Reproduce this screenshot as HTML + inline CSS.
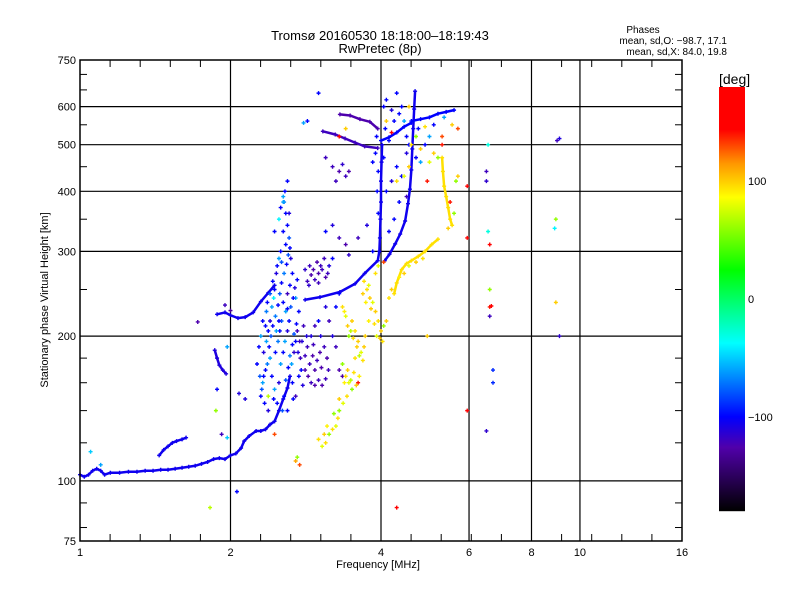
<!DOCTYPE html>
<html><head><meta charset="utf-8"><style>
body{margin:0;background:#fff}
svg{display:block;font-family:"Liberation Sans",sans-serif}
</style></head><body>
<svg id="chart" width="800" height="600" viewBox="0 0 800 600">
<rect width="800" height="600" fill="#fff"/>
<text x="380" y="40" font-size="13" text-anchor="middle">Tromsø 20160530 18:18:00–18:19:43</text>
<text x="380" y="53" font-size="13" text-anchor="middle">RwPretec (8p)</text>
<text x="643" y="33" font-size="10" text-anchor="middle">Phases</text>
<text x="727" y="44" font-size="10" text-anchor="end">mean, sd,O: −98.7, 17.1</text>
<text x="727" y="55" font-size="10" text-anchor="end">mean, sd,X:  84.0, 19.8</text>
<g id="grid"></g>
<g id="marks"></g>
<g id="axes"></g>
<text x="378" y="568" font-size="11" text-anchor="middle">Frequency [MHz]</text>
<text transform="translate(48,300) rotate(-90)" font-size="11" text-anchor="middle">Stationary phase Virtual Height [km]</text>
<g id="cbar"></g>
<text x="719" y="84" font-size="14">[deg]</text>
</svg>
<script>
const xTicks=[1,2,4,6,8,10,16];
const yTicks=[75,100,200,300,400,500,600,750];
const xGrid=[2,4,6,8,10];
const yGrid=[100,200,300,400,500,600];
const cbarTicks=[100,0,-100];
// traces: [freq MHz, height km]
const lowTrace=[[1.0,103],[1.02,102],[1.04,103],[1.06,105],[1.08,106],[1.1,105],[1.12,103],[1.15,104],[1.2,104],[1.25,104.5],[1.3,104.5],[1.35,105],[1.4,105],[1.45,105.5],[1.5,105.5],[1.55,106],[1.6,106.5],[1.65,107],[1.7,107.5],[1.75,108.5],[1.8,109.5],[1.85,111],[1.9,111.5],[1.95,111],[2.0,113],[2.05,114],[2.1,117],[2.13,121],[2.18,124],[2.25,127],[2.3,127],[2.35,128],[2.4,131],[2.45,133],[2.5,140],[2.55,148],[2.6,156],[2.63,165]];
const arcTrace1=[[1.44,113],[1.47,116],[1.5,118],[1.53,120],[1.56,121],[1.6,122],[1.63,123]];
const arcTrace2=[[1.86,187],[1.88,180],[1.9,174],[1.93,170],[1.96,167]];
const midTrace=[[1.88,222],[1.95,224],[2.0,221],[2.07,218],[2.14,219],[2.22,224],[2.3,236],[2.38,246],[2.45,255]];
const oTrace=[[2.82,238],[3.02,241],[3.31,247],[3.55,257],[3.71,270],[3.94,287],[3.97,300],[3.98,320],[3.99,350],[4.0,380],[4.0,420],[4.01,460],[4.02,500]];
const o2Trace=[[4.07,287],[4.16,296],[4.27,311],[4.37,326],[4.47,347],[4.53,377],[4.57,404],[4.6,443],[4.62,490],[4.64,540],[4.66,593],[4.68,646]];
const topArc1=[[3.31,578],[3.47,575],[3.63,565],[3.8,558],[3.94,540]];
const topArc2=[[3.06,533],[3.24,525],[3.39,515],[3.55,505],[3.71,496],[3.94,492]];
const rightArc1=[[4.0,510],[4.15,518],[4.3,530],[4.45,545],[4.6,555]];
const rightArc2=[[4.6,560],[4.8,565],[5.0,570],[5.2,580],[5.4,585],[5.6,590]];
const xTrace1=[[4.25,245],[4.3,258],[4.4,275],[4.5,283],[4.6,287],[4.75,293],[4.9,300],[5.05,310],[5.2,318]];
const xTrace2=[[5.3,470],[5.32,440],[5.35,410],[5.4,390],[5.45,370],[5.5,350],[5.55,340]];
const tracePhases=[-105,-105,-110,-105,-105,-105,-125,-120,-100,-100,95,95];
// scattered echoes: [freq, height, phase]
const cloudPoints=[[2.3,150,-100],[2.32,160,-60],[2.35,170,-100],[2.33,185,-110],[2.36,195,-60],[2.38,205,-100],[2.4,215,-110],[2.42,230,-60],[2.45,250,-100],[2.47,270,-110],[2.5,290,-60],[2.52,300,-100],[2.48,280,-100],[2.44,240,-40],[2.4,180,-60],[2.42,165,-100],[2.45,155,-60],[2.48,145,-100],[2.5,160,-110],[2.52,175,-60],[2.55,185,-100],[2.57,195,-60],[2.6,205,-110],[2.62,215,-100],[2.58,225,-60],[2.55,235,-100],[2.6,245,-120],[2.63,255,-100],[2.65,175,-60],[2.68,185,-115],[2.7,195,-100],[2.72,205,-120],[2.66,160,-100],[2.7,150,-120],[2.74,165,-100],[2.76,180,-120],[2.78,195,-110],[2.8,210,-120],[2.74,225,-100],[2.7,240,-60],[2.66,270,-100],[2.64,290,-110],[2.58,310,-100],[2.55,330,-100],[2.5,350,-40],[2.52,370,-100],[2.55,390,-60],[2.35,210,-100],[2.3,200,-60],[2.28,190,-100],[2.26,175,-100],[2.34,145,-100],[2.38,140,-110],[2.6,140,-100],[2.82,170,-125],[2.86,165,-125],[2.9,160,-120],[2.95,158,-125],[3.0,162,-120],[3.05,158,-125],[3.1,163,-120],[2.88,175,-120],[2.92,182,-125],[2.98,178,-120],[3.02,185,-125],[3.08,190,-120],[3.12,180,-125],[2.85,190,-120],[2.9,200,-110],[2.95,210,-120],[3.0,215,-100],[2.85,260,-120],[2.9,268,-125],[2.95,262,-120],[3.0,270,-125],[3.05,275,-120],[3.1,265,-125],[2.88,280,-120],[2.98,285,-125],[3.08,290,-120],[2.82,275,-115],[3.15,280,-110],[3.2,290,-100],[3.1,230,-110],[3.15,215,-120],[3.2,200,-110],[3.25,190,-120],[3.3,170,-125],[3.35,165,-125],[3.25,230,-100],[3.3,245,-100]];
const cloudPoints2=[[2.31,155,-80],[2.33,165,-100],[2.37,175,-70],[2.39,190,-100],[2.41,200,-80],[2.43,210,-100],[2.46,220,-70],[2.49,232,-100],[2.51,245,-80],[2.53,258,-100],[2.56,270,-70],[2.59,282,-100],[2.61,295,-80],[2.63,305,-100],[2.46,185,-100],[2.49,195,-70],[2.51,205,-100],[2.53,215,-80],[2.56,150,-100],[2.58,162,-80],[2.61,172,-100],[2.63,182,-70],[2.66,192,-100],[2.68,202,-80],[2.71,212,-100],[2.73,185,-110],[2.77,170,-100],[2.79,158,-110],[2.67,148,-100],[2.64,230,-80],[2.67,240,-100],[2.69,252,-110],[2.72,262,-100],[2.62,320,-80],[2.6,340,-100],[2.58,360,-100],[2.56,380,-70],[2.57,400,-100],[2.53,285,-80],[2.43,260,-100],[2.4,245,-80],[2.37,235,-100],[2.36,225,-70],[2.32,215,-100],[2.29,165,-80],[2.44,148,-100],[2.54,140,-80],[2.47,205,-60],[2.5,215,-100],[2.6,228,-100],[2.75,195,-120],[2.82,182,-120],[2.84,200,-110],[2.93,192,-120],[3.03,200,-110],[2.95,170,-125],[3.04,172,-125],[3.14,170,-120],[2.93,275,-125],[3.03,280,-120],[3.13,270,-120],[2.87,255,-115],[3.0,258,-120]];
const upperOPoints=[[2.6,420,-100],[2.55,380,-60],[2.45,330,-100],[2.62,360,-110],[3.0,640,-100],[3.1,470,-120],[3.2,450,-120],[3.3,440,-125],[3.4,430,-120],[3.45,440,-125],[3.35,455,-115],[3.25,420,-120],[2.8,555,-60],[2.85,560,-100],[3.1,330,-100],[3.2,340,-110],[3.3,320,-120],[3.4,310,-125],[3.45,295,-115],[3.6,320,-120],[3.75,340,-110],[3.85,300,-100],[4.1,400,-100],[4.2,420,-110],[4.3,450,-100],[4.4,430,-100],[4.5,480,-110],[4.7,470,-100],[4.8,460,-60],[4.9,500,-100],[5.0,520,-60],[4.35,380,-100],[4.25,350,-100],[4.5,390,-120],[4.15,330,-100],[4.05,600,-100],[4.1,620,-100],[4.2,590,-110],[4.3,640,-100],[4.4,600,-100],[4.45,560,-60],[3.9,480,-100],[3.85,460,-100],[3.92,520,-100],[3.95,440,-100],[3.93,400,-100],[3.95,360,-100],[4.05,470,-100],[4.08,540,-100],[4.15,510,-100],[4.25,560,-100],[4.35,580,-100],[4.5,520,-100],[4.55,500,-100],[4.75,540,-100],[5.1,550,-100],[5.35,570,-60]];
const xModePoints=[[3.35,230,95],[3.4,220,80],[3.5,215,100],[3.55,205,95],[3.45,200,60],[3.6,195,100],[3.65,185,80],[3.55,180,95],[3.7,190,100],[3.75,250,95],[3.8,240,100],[3.85,235,80],[3.9,225,100],[3.95,215,95],[4.0,205,100],[4.05,210,60],[4.1,215,100],[3.35,175,60],[3.4,165,95],[3.45,160,80],[3.5,155,60],[3.42,150,95],[3.3,140,60],[3.25,130,80],[3.2,128,95],[3.15,125,60],[3.1,120,95],[3.05,118,80],[3.3,148,100],[3.6,160,140],[2.7,110,110],[2.75,108,130],[2.72,112,60],[3.95,280,80],[3.9,270,95],[4.05,285,130],[4.15,240,95],[4.3,420,95],[4.45,430,80],[4.55,450,100],[4.6,500,95],[4.7,520,60],[4.8,490,100],[4.9,545,95],[5.0,460,80],[5.1,480,100],[5.2,470,60],[5.3,500,140],[5.3,520,130],[5.55,550,100],[5.7,540,130],[5.65,420,60],[5.7,430,100],[5.5,380,140],[5.6,360,60],[5.45,335,100],[4.95,420,140],[4.2,530,170],[4.1,560,100],[3.4,540,100],[3.3,520,170],[4.55,600,100]];
const xModePoints2=[[3.38,225,90],[3.43,210,100],[3.48,205,70],[3.52,198,95],[3.58,190,100],[3.62,182,70],[3.68,178,95],[3.72,200,100],[3.78,215,90],[3.82,228,100],[3.88,212,95],[3.92,200,80],[3.98,198,100],[4.03,195,95],[3.38,160,90],[3.43,170,100],[3.48,162,70],[3.53,168,95],[3.57,158,100],[3.62,165,90],[3.36,145,80],[3.28,135,95],[3.22,138,60],[3.12,130,90],[3.08,125,100],[3.0,122,95],[3.7,260,95],[3.78,255,80],[3.68,245,100],[3.73,235,90],[4.2,250,100],[4.35,265,90],[4.45,270,100],[4.55,280,80],[4.7,285,100],[4.85,290,95]];
const sparsePoints=[[5.95,410,170],[5.95,320,160],[5.95,140,150],[6.5,440,-120],[6.5,420,-115],[6.55,500,-30],[6.55,330,-30],[6.6,310,170],[6.6,250,60],[6.6,230,140],[6.65,231,150],[6.6,220,-120],[6.7,170,-90],[6.7,160,-90],[6.5,127,-115],[9.0,510,-120],[9.1,515,-110],[8.95,350,60],[8.9,335,-40],[8.95,235,100],[9.1,200,-115],[4.95,200,100],[4.3,88,150],[1.05,115,-50],[1.1,108,-60],[1.82,88,70],[1.97,123,-50],[1.92,125,-120],[2.06,95,-100],[2.14,148,-110],[2.08,152,-110],[1.72,214,-125],[1.97,190,-60],[1.87,140,60],[1.88,155,-100],[2.38,150,70],[2.45,125,130],[1.95,232,-120],[2.0,226,-130]];

const NS='http://www.w3.org/2000/svg';
const L=80,R=682,T=60,B=541;
const xs=f=>L+(R-L)*Math.log2(f)/4;
const ys=h=>B-(B-T)*Math.log10(h/75);
function el(t,a,p){const e=document.createElementNS(NS,t);for(const k in a)e.setAttribute(k,a[k]);p.appendChild(e);return e;}
const stops=[[0,[0,0,0]],[0.15,[80,0,170]],[0.222,[0,0,255]],[0.396,[0,255,255]],[0.568,[0,255,0]],[0.74,[255,255,0]],[0.82,[255,150,0]],[0.9,[255,0,0]],[1,[255,0,0]]];
function col(p){let t=(p+180)/360;t=Math.max(0,Math.min(1,t));for(let i=1;i<stops.length;i++){if(t<=stops[i][0]){const a=stops[i-1],b=stops[i],u=(t-a[0])/(b[0]-a[0]||1);const c=a[1].map((v,j)=>Math.round(v+(b[1][j]-v)*u));return `rgb(${c})`;}}return 'rgb(255,0,0)';}
const grid=document.getElementById('grid'),axes=document.getElementById('axes'),marks=document.getElementById('marks'),cb=document.getElementById('cbar');
xGrid.forEach(v=>{const g=el('line',{x1:xs(v),x2:xs(v),y1:T,y2:B,stroke:'#000','stroke-width':1.2},grid);

});
yGrid.forEach(v=>{const g=el('line',{x1:L,x2:R,y1:ys(v),y2:ys(v),stroke:'#000','stroke-width':1.2},grid);

});
for(let k=1;k<20;k++){const x=L+(R-L)*k/20;
el('line',{x1:x,x2:x,y1:T,y2:T+7,stroke:'#000'},axes);el('line',{x1:x,x2:x,y1:B,y2:B-7,stroke:'#000'},axes);}
[80,90,120,140,160,180,250,350,450,550,650,700].forEach(v=>{const y=ys(v);el('line',{x1:L,x2:L+7,y1:y,y2:y,stroke:'#000'},axes);el('line',{x1:R,x2:R-7,y1:y,y2:y,stroke:'#000'},axes);});
const frame=el('rect',{x:L,y:T,width:R-L,height:B-T,fill:'none',stroke:'#000','stroke-width':1.5},axes);


xTicks.forEach(v=>{const t=el('text',{x:xs(v),y:B+15,'font-size':11,'text-anchor':'middle'},axes);t.textContent=v;

});
yTicks.forEach(v=>{const t=el('text',{x:L-4,y:ys(v)+4,'font-size':11,'text-anchor':'end'},axes);t.textContent=v;

});
function plus(f,h,p){const x=xs(f),y=ys(h);const m=el('path',{d:`M${x-2} ${y}h4M${x} ${y-2}v4`,stroke:col(p),'stroke-width':1.4},marks);

}
const traces=[lowTrace,arcTrace1,arcTrace2,midTrace,oTrace,o2Trace,topArc1,topArc2,rightArc1,rightArc2,xTrace1,xTrace2];
traces.forEach((tr,i)=>{const pl=el('polyline',{points:tr.map(p=>xs(p[0])+','+ys(p[1])).join(' '),fill:'none',stroke:col(tracePhases[i]),'stroke-width':2.5,'stroke-linejoin':'round'},marks);


tr.forEach(p=>plus(p[0],p[1],tracePhases[i]));});
[cloudPoints,cloudPoints2,upperOPoints,xModePoints,xModePoints2,sparsePoints].forEach(a=>a.forEach(p=>plus(p[0],p[1],p[2])));
const cT=87,cB=511,cx=719,cw=26;
for(let y=cT;y<cB;y++){el('rect',{x:cx,y:y,width:cw,height:1.2,fill:col(-180+360*(cB-y-0.5)/(cB-cT))},cb);}
cbarTicks.forEach(v=>{const y=cB-(v+180)/360*(cB-cT);const t=el('text',{x:cx+cw+3,y:y+4,'font-size':11},cb);t.textContent=v<0?'−'+(-v):v;

});
</script>
</body></html>
